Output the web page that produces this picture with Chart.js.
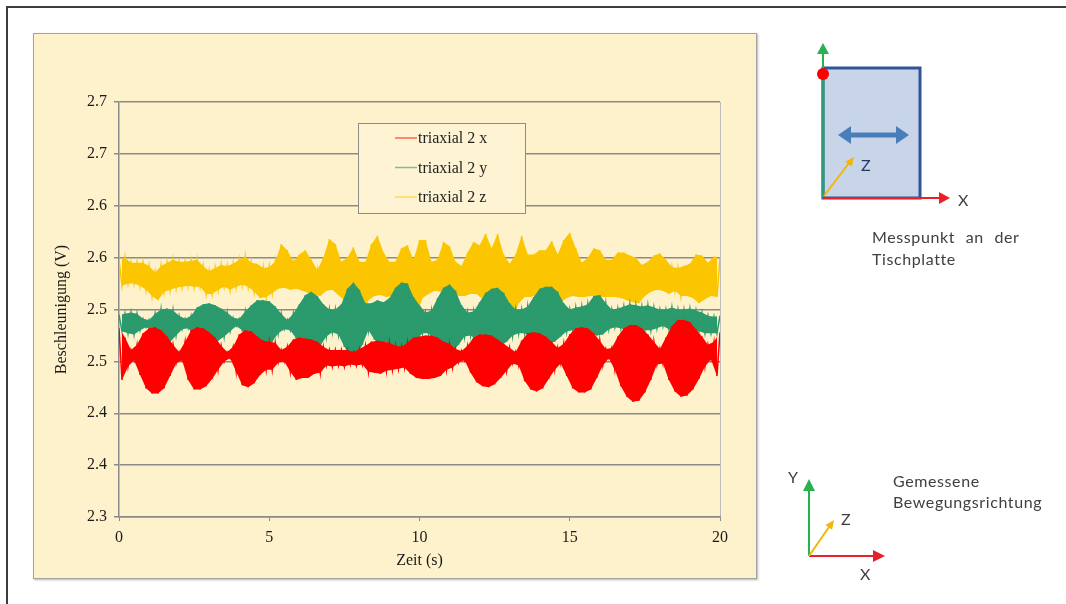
<!DOCTYPE html>
<html>
<head>
<meta charset="utf-8">
<script src="https://cdn.jsdelivr.net/npm/chart.js@4/dist/chart.umd.min.js"></script>
<style>
  html, body { margin: 0; padding: 0; background: #fff; }
  body { width: 1066px; height: 604px; position: relative; overflow: hidden; }
  .frame { position: absolute; left: 6px; top: 6px; width: 1060px; height: 598px;
           border-top: 2px solid #3c3c3c; border-left: 2px solid #3c3c3c; }
  .chart-box { position: absolute; left: 33px; top: 33px; width: 722px; height: 544px;
               background: #fef2cc; border: 1px solid #a3a3a3;
               box-shadow: 1px 1px 2px rgba(0,0,0,0.3); }
  #chart { position: absolute; left: 0; top: 0; }
  svg.sketch { position: absolute; left: 0; top: 0; }
  .note { font-family: Lato, "Open Sans", sans-serif; font-size: 16px; fill: #404040;
          letter-spacing: 0.6px; word-spacing: 6px; }
</style>
</head>
<body>
<div class="frame"></div>
<div class="chart-box"><canvas id="chart" width="722" height="544"></canvas></div>

<svg class="sketch" width="1066" height="604">
  <!-- Messpunkt an der Tischplatte -->
  <rect x="823" y="68" width="97" height="130" fill="#c8d5e8" stroke="#2f5597" stroke-width="3"/>
  <line x1="823" y1="198" x2="823" y2="68" stroke="#2f9a7a" stroke-width="3"/>
  <line x1="823" y1="68" x2="823" y2="52" stroke="#29b050" stroke-width="2"/>
  <polygon points="823,43 817,54 829,54" fill="#29b050"/>
  <circle cx="823" cy="74" r="6" fill="#ff0000"/>
  <line x1="823" y1="198" x2="941" y2="198" stroke="#e8202a" stroke-width="2"/>
  <polygon points="950,198 939,192 939,204" fill="#e8202a"/>
  <line x1="824" y1="196" x2="849" y2="163" stroke="#f2b705" stroke-width="2"/>
  <polygon points="854,157 851.7,166.5 845.3,161.7" fill="#f2b705"/>
  <line x1="849" y1="135" x2="898" y2="135" stroke="#4a7ebb" stroke-width="5"/>
  <polygon points="838,135 851,126 851,144" fill="#4a7ebb"/>
  <polygon points="909,135 896,126 896,144" fill="#4a7ebb"/>
  <text x="861" y="171" class="note" style="fill:#1f3864">Z</text>
  <text x="958" y="206" class="note">X</text>
  <text x="872" y="243" class="note">Messpunkt an der</text>
  <text x="872" y="265" class="note">Tischplatte</text>

  <!-- Gemessene Bewegungsrichtung -->
  <line x1="809" y1="556" x2="809" y2="489" stroke="#29b050" stroke-width="2"/>
  <polygon points="809,479 803,491 815,491" fill="#29b050"/>
  <line x1="809" y1="556" x2="875" y2="556" stroke="#e8202a" stroke-width="2"/>
  <polygon points="885,556 873,550 873,562" fill="#e8202a"/>
  <line x1="809" y1="556" x2="829" y2="527" stroke="#f2b705" stroke-width="2"/>
  <polygon points="834,520 832.1,529.7 825.5,525.1" fill="#f2b705"/>
  <text x="788" y="483" class="note">Y</text>
  <text x="841" y="525" class="note">Z</text>
  <text x="860" y="580" class="note">X</text>
  <text x="893" y="487" class="note">Gemessene</text>
  <text x="893" y="508" class="note">Bewegungsrichtung</text>
</svg>

<script>
// samples every 0.1 s (peaks and troughs of the vibration)
const sampleStep = 0.1;
const seriesLabels = ['triaxial 2 x', 'triaxial 2 y', 'triaxial 2 z'];
const seriesColors = ['#ff0000', '#2b9a6c', '#fbc500'];
const xTickLabels = ['0', '5', '10', '15', '20'];
const yTickLabels = ['2.3', '2.4', '2.4', '2.5', '2.5', '2.6', '2.6', '2.7', '2.7'];

const triaxialX = [
  2.482,2.432,2.473,2.445,2.461,2.451,2.466,2.437,2.477,2.424,
  2.482,2.419,2.483,2.419,2.480,2.424,2.474,2.436,2.466,2.448,
  2.459,2.451,2.469,2.432,2.480,2.423,2.483,2.423,2.482,2.426,
  2.478,2.433,2.473,2.442,2.465,2.450,2.459,2.453,2.464,2.440,
  2.476,2.427,2.480,2.425,2.479,2.429,2.474,2.437,2.470,2.442,
  2.469,2.442,2.468,2.449,2.461,2.450,2.464,2.440,2.471,2.432,
  2.473,2.434,2.472,2.434,2.471,2.438,2.469,2.439,2.464,2.446,
  2.461,2.445,2.461,2.446,2.461,2.445,2.461,2.447,2.459,2.446,
  2.462,2.447,2.465,2.440,2.469,2.439,2.470,2.438,2.469,2.441,
  2.468,2.442,2.465,2.443,2.464,2.444,2.468,2.438,2.473,2.434,
  2.474,2.433,2.475,2.433,2.475,2.434,2.473,2.436,2.469,2.442,
  2.467,2.444,2.462,2.449,2.460,2.451,2.465,2.439,2.473,2.430,
  2.476,2.426,2.476,2.425,2.475,2.428,2.471,2.434,2.467,2.441,
  2.463,2.448,2.459,2.446,2.470,2.431,2.477,2.423,2.478,2.421,
  2.477,2.424,2.474,2.433,2.469,2.442,2.463,2.448,2.467,2.436,
  2.476,2.424,2.482,2.420,2.483,2.420,2.482,2.423,2.477,2.434,
  2.470,2.446,2.462,2.453,2.463,2.442,2.474,2.426,2.482,2.416,
  2.485,2.411,2.485,2.412,2.482,2.420,2.476,2.432,2.469,2.447,
  2.462,2.448,2.473,2.432,2.484,2.421,2.490,2.416,2.490,2.417,
  2.488,2.423,2.481,2.433,2.474,2.445,2.466,2.452,2.469,2.436,
  2.478
];
const triaxialY = [
  2.495,2.479,2.496,2.477,2.497,2.476,2.496,2.480,2.491,2.483,
  2.490,2.480,2.496,2.474,2.500,2.469,2.501,2.469,2.499,2.475,
  2.494,2.481,2.491,2.482,2.494,2.476,2.502,2.469,2.505,2.466,
  2.506,2.467,2.504,2.470,2.501,2.474,2.497,2.479,2.492,2.484,
  2.491,2.480,2.498,2.471,2.504,2.462,2.509,2.458,2.509,2.461,
  2.508,2.469,2.503,2.477,2.496,2.481,2.490,2.480,2.496,2.472,
  2.505,2.463,2.514,2.458,2.517,2.459,2.513,2.465,2.505,2.474,
  2.500,2.478,2.500,2.476,2.505,2.464,2.520,2.455,2.526,2.455,
  2.519,2.466,2.506,2.480,2.506,2.471,2.509,2.464,2.507,2.469,
  2.511,2.461,2.521,2.455,2.526,2.454,2.525,2.461,2.512,2.471,
  2.504,2.477,2.497,2.477,2.499,2.471,2.511,2.462,2.521,2.458,
  2.524,2.459,2.518,2.466,2.504,2.474,2.497,2.475,2.498,2.471,
  2.507,2.466,2.516,2.464,2.520,2.464,2.521,2.465,2.516,2.469,
  2.506,2.475,2.500,2.477,2.500,2.477,2.503,2.474,2.512,2.470,
  2.520,2.468,2.522,2.468,2.522,2.469,2.517,2.474,2.506,2.479,
  2.500,2.480,2.502,2.479,2.503,2.480,2.505,2.477,2.513,2.475,
  2.514,2.476,2.506,2.481,2.500,2.483,2.501,2.482,2.503,2.480,
  2.505,2.480,2.504,2.480,2.503,2.480,2.504,2.480,2.502,2.482,
  2.500,2.484,2.500,2.481,2.502,2.480,2.500,2.479,2.500,2.480,
  2.501,2.480,2.499,2.479,2.497,2.477,2.494,2.477,2.493,2.477,
  2.494
];
const triaxialZ = [
  2.548,2.523,2.550,2.525,2.545,2.525,2.545,2.523,2.545,2.519,
  2.542,2.513,2.536,2.509,2.542,2.517,2.545,2.519,2.548,2.521,
  2.546,2.522,2.546,2.523,2.547,2.522,2.548,2.522,2.542,2.515,
  2.537,2.515,2.540,2.519,2.543,2.522,2.542,2.519,2.544,2.522,
  2.548,2.524,2.551,2.522,2.545,2.517,2.544,2.511,2.540,2.512,
  2.541,2.516,2.546,2.520,2.563,2.521,2.557,2.519,2.546,2.520,
  2.553,2.518,2.557,2.516,2.548,2.514,2.538,2.513,2.550,2.518,
  2.568,2.519,2.563,2.514,2.546,2.509,2.550,2.507,2.560,2.500,
  2.546,2.493,2.546,2.509,2.563,2.513,2.571,2.514,2.555,2.512,
  2.546,2.513,2.546,2.513,2.559,2.507,2.562,2.495,2.548,2.494,
  2.567,2.511,2.567,2.515,2.546,2.518,2.548,2.517,2.565,2.516,
  2.561,2.515,2.546,2.513,2.542,2.513,2.555,2.515,2.565,2.515,
  2.562,2.510,2.573,2.506,2.559,2.507,2.573,2.503,2.553,2.495,
  2.544,2.490,2.553,2.506,2.571,2.512,2.553,2.512,2.553,2.514,
  2.557,2.513,2.557,2.510,2.566,2.507,2.553,2.507,2.567,2.511,
  2.574,2.513,2.559,2.512,2.545,2.512,2.550,2.513,2.559,2.513,
  2.557,2.512,2.548,2.512,2.548,2.512,2.555,2.511,2.555,2.509,
  2.552,2.507,2.550,2.506,2.543,2.513,2.546,2.517,2.552,2.519,
  2.554,2.518,2.548,2.515,2.541,2.518,2.540,2.513,2.542,2.513,
  2.544,2.511,2.553,2.506,2.552,2.510,2.545,2.513,2.551,2.512,
  2.550
];

const toPoints = (values) => values.map((v, i) => ({x: Math.round(i * sampleStep * 10) / 10, y: v}));

const serif = '"Liberation Serif", "Times New Roman", serif';
Chart.defaults.font.family = serif;
Chart.defaults.font.size = 16;
Chart.defaults.color = '#1a1a1a';

// legend with a frame, drawn inside the plot like the Excel one
const boxLegend = {
  id: 'boxLegend',
  afterDatasetsDraw(chart) {
    const ctx = chart.ctx;
    const area = chart.chartArea;
    const left = area.left + 239, top = area.top + 21, w = 167, h = 90;
    ctx.save();
    ctx.fillStyle = '#fef4d4';
    ctx.fillRect(left, top, w, h);
    ctx.strokeStyle = '#8c8c8c';
    ctx.lineWidth = 1;
    ctx.strokeRect(left + 0.5, top + 0.5, w, h);
    ctx.font = '16px ' + serif;
    ctx.textBaseline = 'middle';
    seriesLabels.forEach((label, i) => {
      const y = top + 15 + i * 29.5;
      ctx.globalAlpha = 0.6;
      ctx.strokeStyle = seriesColors[i];
      ctx.lineWidth = 1.5;
      ctx.beginPath();
      ctx.moveTo(left + 37, y);
      ctx.lineTo(left + 59, y);
      ctx.stroke();
      ctx.globalAlpha = 1;
      ctx.fillStyle = '#222';
      ctx.fillText(label, left + 60, y + 1);
    });
    ctx.restore();
  }
};

const series = [triaxialX, triaxialY, triaxialZ];
const datasets = [];

// the signal itself (zigzag through the read peaks/troughs) ...
series.forEach((values, i) => {
  datasets.push({
    label: seriesLabels[i],
    data: toPoints(values),
    borderColor: seriesColors[i],
    borderWidth: 1.5,
    pointRadius: 0,
    tension: 0,
    fill: false,
    order: i + 1
  });
});
// ... and the band between its peaks and troughs, so it looks solid like the dense original
series.forEach((values, i) => {
  const pts = toPoints(values);
  datasets.push({
    label: seriesLabels[i] + ' peaks',
    data: pts.filter((p, k) => k % 2 === 0),
    borderWidth: 0,
    pointRadius: 0,
    tension: 0,
    backgroundColor: seriesColors[i],
    fill: '+1',
    order: i + 1
  });
  datasets.push({
    label: seriesLabels[i] + ' troughs',
    data: pts.filter((p, k) => k % 2 === 1),
    borderWidth: 0,
    pointRadius: 0,
    tension: 0,
    fill: false,
    order: i + 1
  });
});

new Chart(document.getElementById('chart'), {
  type: 'line',
  data: {datasets},
  options: {
    responsive: false,
    animation: false,
    events: [],
    devicePixelRatio: 1,
    layout: {padding: {top: 68, right: 36, bottom: 0, left: 0}},
    plugins: {legend: {display: false}, tooltip: {enabled: false}},
    scales: {
      x: {
        type: 'linear',
        min: 0,
        max: 20,
        afterFit: (scale) => { scale.height = 61; },
        ticks: {stepSize: 5, padding: 7, maxRotation: 0,
                callback: (value, index) => xTickLabels[index]},
        grid: {
          color: (ctx) => ctx.index === xTickLabels.length - 1 ? '#bdbdbd' : 'rgba(0,0,0,0)',
          tickColor: '#8a8a8a',
          tickLength: 4,
          lineWidth: 1
        },
        border: {display: true, color: '#8a8a8a', width: 1.5},
        title: {display: true, text: 'Zeit (s)', font: {size: 16}, padding: {top: 0, bottom: 8}}
      },
      y: {
        min: 2.3,
        max: 2.7,
        afterFit: (scale) => { scale.width = 85; },
        ticks: {stepSize: 0.05, padding: 7,
                callback: (value, index) => yTickLabels[index]},
        grid: {color: '#8a8a8a', tickColor: '#8a8a8a', tickLength: 5, lineWidth: 1.5},
        border: {display: true, color: '#8a8a8a', width: 1.5},
        title: {display: true, text: 'Beschleunigung (V)', font: {size: 16}, padding: {top: 18, bottom: 0}}
      }
    }
  },
  plugins: [boxLegend]
});
</script>
</body>
</html>
